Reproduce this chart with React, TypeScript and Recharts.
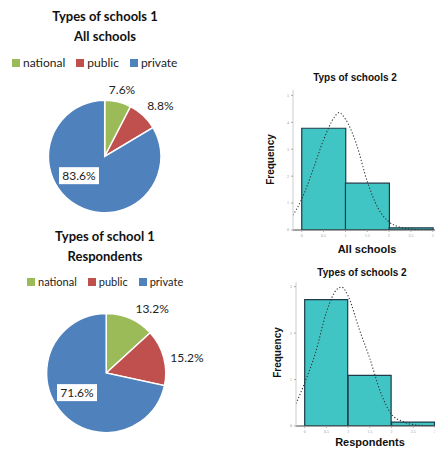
import React from 'react'
import {
  PieChart,
  Pie,
  Cell,
  Legend,
  ComposedChart,
  Bar,
  Line,
  XAxis,
  YAxis,
} from 'recharts'

// pie data
const pieCategories = ['national', 'public', 'private']
const pieColors = ['#9BBB59', '#C0504D', '#4F81BD']
const allSchoolsShares = [7.6, 8.8, 83.6]
const respondentShares = [13.2, 15.2, 71.6]

// histogram data (three bins, centers on the x scale)
const binCenters = [0.5, 1.5, 2.5]
const allSchoolsCounts = [3.78, 1.74, 0.08]
const respondentCounts = [2.72, 1.09, 0.085]

// fitted normal curve
const curveX = [-0.2, 0, 0.25, 0.5, 0.75, 0.85, 1, 1.25, 1.5, 1.75, 2, 2.25, 2.5, 2.75, 3]
const allSchoolsCurve = [0.55, 1.15, 2.2, 3.35, 4.2, 4.36, 4.12, 3.2, 1.8, 0.8, 0.3, 0.1, 0.03, 0.01, 0]
const respondentCurve = [0.48, 0.93, 1.58, 2.45, 2.95, 2.99, 2.8, 2.1, 1.45, 0.72, 0.25, 0.1, 0.03, 0.01, 0]

const xTicks = [0, 0.5, 1, 1.5, 2, 2.5, 3]

const PIE_FONT = 'Lato, "Open Sans", sans-serif'
const HIST_FONT = '"Liberation Sans", Arial, sans-serif'
const RAD = Math.PI / 180

interface PiePanelProps {
  top: number
  title: string[]
  shares: number[]
  cx: number
  cy: number
  radius: number
  legendTop: number
  legendLeft: number
  legendFont: number
  labelPlace: number[][]
}

function PiePanel({ top, title, shares, cx, cy, radius, legendTop, legendLeft, legendFont, labelPlace }: PiePanelProps) {
  const data = pieCategories.map((name, i) => ({ name, value: shares[i] }))

  const renderLabel = (props: any) => {
    const [angle, factor] = labelPlace[props.index]
    const x = props.cx + props.outerRadius * factor * Math.cos(angle * RAD)
    const y = props.cy - props.outerRadius * factor * Math.sin(angle * RAD)
    const text = `${props.value.toFixed(1)}%`
    const boxed = props.index === 2
    return (
      <g key={`lbl-${props.index}`}>
        {boxed && <rect x={x - 20} y={y - 8.5} width={40} height={17} fill="#fff" />}
        <text
          x={x}
          y={y}
          textAnchor="middle"
          dominantBaseline="central"
          fill="#222"
          fontSize={12}
          fontFamily={PIE_FONT}
        >
          {text}
        </text>
      </g>
    )
  }

  const renderLegend = ({ payload }: any) => {
    const items = [...(payload || [])].sort(
      (a: any, b: any) => pieCategories.indexOf(a.value) - pieCategories.indexOf(b.value)
    )
    return (
      <div style={{ display: 'flex', alignItems: 'center', paddingLeft: legendLeft, fontFamily: PIE_FONT, fontSize: legendFont, color: '#222' }}>
        {items.map((e: any) => (
          <span key={e.value} style={{ display: 'flex', alignItems: 'center', marginRight: 11 }}>
            <span style={{ width: 8, height: 8, background: e.color, marginRight: 3, display: 'inline-block' }} />
            {e.value}
          </span>
        ))}
      </div>
    )
  }

  return (
    <div style={{ position: 'absolute', left: 0, top, width: 220, height: 220 }}>
      <div
        style={{
          position: 'absolute',
          left: 0,
          top: 6,
          width: 210,
          textAlign: 'center',
          fontFamily: PIE_FONT,
          fontWeight: 700,
          fontSize: 13,
          lineHeight: '20px',
          color: '#111',
        }}
      >
        {title.map((t) => (
          <div key={t}>{t}</div>
        ))}
      </div>
      <PieChart width={220} height={220} margin={{ top: 0, right: 0, bottom: 0, left: 0 }}>
        <Legend
          layout="vertical"
          align="center"
          verticalAlign="middle"
          content={renderLegend}
          wrapperStyle={{ top: legendTop, left: 0, width: 220, height: 14 }}
        />
        <Pie
          data={data}
          dataKey="value"
          nameKey="name"
          cx={cx}
          cy={cy}
          outerRadius={radius}
          startAngle={90}
          endAngle={-270}
          stroke="#fff"
          strokeWidth={1.5}
          label={renderLabel}
          labelLine={false}
          isAnimationActive={false}
        >
          {data.map((d, i) => (
            <Cell key={d.name} fill={pieColors[i]} />
          ))}
        </Pie>
      </PieChart>
    </div>
  )
}

interface HistProps {
  top: number
  title: string
  titleTop: number
  titleCenter: number
  xLabel: string
  xLabelTop: number
  xLabelCenter: number
  yLabelLeft: number
  yLabelCenter: number
  counts: number[]
  curve: number[]
  yMax: number
  yTicks: number[]
  xDomain: number[]
  margin: { top: number; right: number; bottom: number; left: number }
}

function Histogram(p: HistProps) {
  const bins = binCenters.map((x, i) => ({ x, count: p.counts[i] }))
  const curveData = curveX.map((x, i) => ({ x, y: p.curve[i] }))
  const labelStyle: React.CSSProperties = {
    position: 'absolute',
    fontFamily: HIST_FONT,
    fontWeight: 700,
    color: '#111',
    whiteSpace: 'nowrap',
  }
  return (
    <div style={{ position: 'absolute', left: 260, top: p.top, width: 175, height: 200 }}>
      <div style={{ ...labelStyle, fontSize: 10, left: p.titleCenter - 60, width: 120, textAlign: 'center', top: p.titleTop - 6 }}>
        {p.title}
      </div>
      <div style={{ ...labelStyle, fontSize: 11, left: p.xLabelCenter - 50, width: 100, textAlign: 'center', top: p.xLabelTop - 7 }}>
        {p.xLabel}
      </div>
      <div
        style={{
          ...labelStyle,
          fontSize: 10,
          left: p.yLabelLeft - 30,
          top: p.yLabelCenter - 6,
          width: 60,
          textAlign: 'center',
          transform: 'rotate(-90deg)',
        }}
      >
        Frequency
      </div>
      <ComposedChart width={175} height={200} data={bins} margin={p.margin} barCategoryGap={0} barGap={0}>
        <XAxis
          xAxisId="bins"
          dataKey="x"
          type="number"
          domain={p.xDomain}
          ticks={xTicks}
          allowDataOverflow
          height={10}
          tickSize={2}
          tick={{ fontSize: 4, fill: '#999' }}
          tickLine={{ stroke: '#aaa' }}
          axisLine={{ stroke: '#444' }}
          interval={0}
        />
        <XAxis xAxisId="curve" dataKey="x" type="number" domain={p.xDomain} allowDataOverflow hide />
        <YAxis
          type="number"
          domain={[0, p.yMax]}
          ticks={p.yTicks}
          allowDataOverflow
          width={10}
          tickSize={2}
          tick={{ fontSize: 4, fill: '#999' }}
          tickLine={{ stroke: '#aaa' }}
          axisLine={{ stroke: '#ccc' }}
          interval={0}
        />
        <Bar
          xAxisId="bins"
          dataKey="count"
          fill="#40C4C4"
          stroke="#1f3b48"
          strokeWidth={1.2}
          isAnimationActive={false}
        />
        <Line
          xAxisId="curve"
          data={curveData}
          dataKey="y"
          type="monotone"
          stroke="#333"
          strokeWidth={1.1}
          strokeDasharray="1.2 2"
          dot={false}
          isAnimationActive={false}
        />
      </ComposedChart>
    </div>
  )
}

export default function App() {
  return (
    <div style={{ position: 'absolute', left: 0, top: 0, width: 435, height: 451, background: '#fff', overflow: 'hidden' }}>
      <PiePanel
        top={0}
        title={['Types of schools 1', 'All schools']}
        shares={allSchoolsShares}
        cx={104.7}
        cy={156.5}
        radius={56.3}
        legendTop={55}
        legendLeft={12}
        legendFont={12}
        labelPlace={[
          [75.5, 1.23],
          [42.5, 1.34],
          [216.7, 0.57],
        ]}
      />
      <PiePanel
        top={220}
        title={['Types of school 1', 'Respondents']}
        shares={respondentShares}
        cx={106.2}
        cy={153}
        radius={59.6}
        legendTop={55}
        legendLeft={27}
        legendFont={11}
        labelPlace={[
          [54.6, 1.33],
          [10.7, 1.38],
          [213.9, 0.59],
        ]}
      />
      <Histogram
        top={60}
        title="Typs of schools 2"
        titleTop={18}
        titleCenter={95}
        xLabel="All schools"
        xLabelTop={190}
        xLabelCenter={107}
        yLabelLeft={10}
        yLabelCenter={100}
        counts={allSchoolsCounts}
        curve={allSchoolsCurve}
        yMax={5.2}
        yTicks={[0, 1, 2, 3, 4, 5]}
        xDomain={[-0.2, 3.05]}
        margin={{ top: 30, right: 0, bottom: 20, left: 23 }}
      />
      <Histogram
        top={250}
        title="Types of schools 2"
        titleTop={23}
        titleCenter={102}
        xLabel="Respondents"
        xLabelTop={193}
        xLabelCenter={110}
        yLabelLeft={17}
        yLabelCenter={103}
        counts={respondentCounts}
        curve={respondentCurve}
        yMax={3.1}
        yTicks={[0, 1, 2, 3]}
        xDomain={[-0.2, 3.0]}
        margin={{ top: 32, right: 0, bottom: 14, left: 26 }}
      />
    </div>
  )
}
